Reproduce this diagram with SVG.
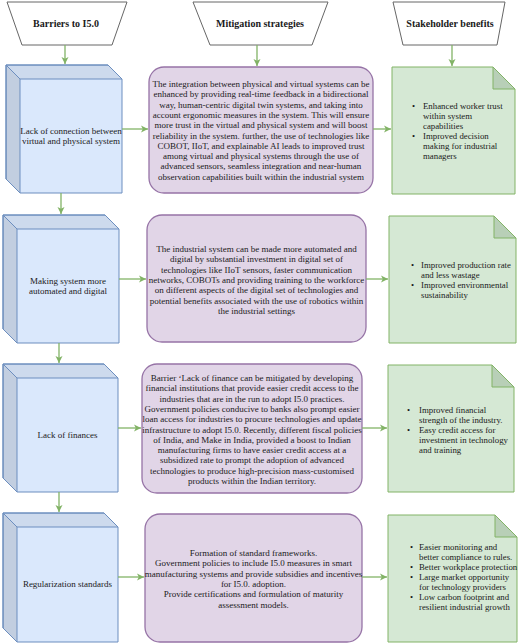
<svg xmlns="http://www.w3.org/2000/svg" width="520" height="644" viewBox="0 0 520 644">
<defs>
<marker id="ah" markerWidth="8" markerHeight="8" refX="7" refY="4" orient="auto" markerUnits="userSpaceOnUse">
<path d="M0,0.5 L7,4 L0,7.5 L1.8,4 Z" fill="#82B366"/>
</marker>
<style>
.hdr{fill:#fff;stroke:#666;stroke-width:1}
.ht{font-family:"Liberation Serif",serif;font-weight:bold;font-size:10px;fill:#1a1a1a;text-anchor:middle}
.cube{fill:#DAE8FC;stroke:#6C8EBF;stroke-width:1}
.top{fill:#000;fill-opacity:0.06;stroke:#6C8EBF;stroke-width:1}
.side{fill:#000;fill-opacity:0.11;stroke:#6C8EBF;stroke-width:1}
.mit{fill:#E1D5E7;stroke:#9673A6;stroke-width:1.3}
.note{fill:#D5E8D4;stroke:#82B366;stroke-width:1}
.fold{fill:#B8CFB7;stroke:#82B366;stroke-width:1}
.t{font-family:"Liberation Serif",serif;font-size:9px;fill:#1a1a1a;text-anchor:middle}
.b{font-family:"Liberation Serif",serif;font-size:8.8px;fill:#1a1a1a}
.c line{stroke:#82B366;stroke-width:1.3;marker-end:url(#ah)}
</style>
</defs>

<g id="h1"><path class="hdr" d="M7,2 L127,2 L112,45 L22,45 Z"/><text class="ht" x="66" y="27">Barriers to I5.0</text></g>
<g id="h2"><path class="hdr" d="M193,2 L328,2 L312,45 L210,45 Z"/><text class="ht" x="260" y="27">Mitigation strategies</text></g>
<g id="h3"><path class="hdr" d="M393,2 L505,2 L497,45 L403,45 Z"/><text class="ht" x="450" y="27">Stakeholder benefits</text></g>

<g id="b1">
<path class="cube" d="M6,65 L108,65 L122,79 L122,193 L20,193 L6,179 Z"/>
<path class="top" d="M6,65 L108,65 L122,79 L20,79 Z"/>
<path class="side" d="M6,65 L20,79 L20,193 L6,179 Z"/>
<text class="t" x="71" y="134">Lack of connection between</text>
<text class="t" x="71" y="144.3">virtual and physical system</text>
</g>
<g id="b2">
<path class="cube" d="M3,215 L105,215 L119,229 L119,343 L17,343 L3,329 Z"/>
<path class="top" d="M3,215 L105,215 L119,229 L17,229 Z"/>
<path class="side" d="M3,215 L17,229 L17,343 L3,329 Z"/>
<text class="t" x="68" y="284">Making system more</text>
<text class="t" x="68" y="294.3">automated and digital</text>
</g>
<g id="b3">
<path class="cube" d="M3,364 L104,364 L118,378 L118,492 L17,492 L3,478 Z"/>
<path class="top" d="M3,364 L104,364 L118,378 L17,378 Z"/>
<path class="side" d="M3,364 L17,378 L17,492 L3,478 Z"/>
<text class="t" x="67.5" y="438">Lack of finances</text>
</g>
<g id="b4">
<path class="cube" d="M3,513 L104,513 L118,527 L118,642 L17,642 L3,628 Z"/>
<path class="top" d="M3,513 L104,513 L118,527 L17,527 Z"/>
<path class="side" d="M3,513 L17,527 L17,642 L3,628 Z"/>
<text class="t" x="67.5" y="587">Regularization standards</text>
</g>

<g id="m1">
<rect class="mit" x="149" y="67" width="224" height="126" rx="15"/>
<text class="t" x="261" y="87">The integration between physical and virtual systems can be</text>
<text class="t" x="261" y="97.3">enhanced by providing real-time feedback in a bidirectional</text>
<text class="t" x="261" y="107.6">way, human-centric digital twin systems, and taking into</text>
<text class="t" x="261" y="117.9">account ergonomic measures in the system. This will ensure</text>
<text class="t" x="261" y="128.2">more trust in the virtual and physical system and will boost</text>
<text class="t" x="261" y="138.5">reliability in the system. further, the use of technologies like</text>
<text class="t" x="261" y="148.8">COBOT, IIoT, and explainable AI leads to improved trust</text>
<text class="t" x="261" y="159.1">among virtual and physical systems through the use of</text>
<text class="t" x="261" y="169.4">advanced sensors, seamless integration and near-human</text>
<text class="t" x="261" y="179.7">observation capabilities built within the industrial system</text>
</g>
<g id="m2">
<rect class="mit" x="147" y="215" width="219" height="127" rx="15"/>
<text class="t" x="256.5" y="252">The industrial system can be made more automated and</text>
<text class="t" x="256.5" y="262.3">digital by substantial investment in digital set of</text>
<text class="t" x="256.5" y="272.6">technologies like IIoT sensors, faster communication</text>
<text class="t" x="256.5" y="282.9">networks, COBOTs and providing training to the workforce</text>
<text class="t" x="256.5" y="293.2">on different aspects of the digital set of technologies and</text>
<text class="t" x="256.5" y="303.5">potential benefits associated with the use of robotics within</text>
<text class="t" x="256.5" y="313.8">the industrial settings</text>
</g>
<g id="m3">
<rect class="mit" x="142" y="364" width="220" height="129" rx="15"/>
<text class="t" x="252" y="381">Barrier ‘Lack of finance can be mitigated by developing</text>
<text class="t" x="252" y="391.3">financial institutions that provide easier credit access to the</text>
<text class="t" x="252" y="401.6">industries that are in the run to adopt I5.0 practices.</text>
<text class="t" x="252" y="411.9">Government policies conducive to banks also prompt easier</text>
<text class="t" x="252" y="422.2">loan access for industries to procure technologies and update</text>
<text class="t" x="252" y="432.5">infrastructure to adopt I5.0. Recently, different fiscal policies</text>
<text class="t" x="252" y="442.8">of India, and Make in India, provided a boost to Indian</text>
<text class="t" x="252" y="453.1">manufacturing firms to have easier credit access at a</text>
<text class="t" x="252" y="463.4">subsidized rate to prompt the adoption of advanced</text>
<text class="t" x="252" y="473.7">technologies to produce high-precision mass-customised</text>
<text class="t" x="252" y="484">products within the Indian territory.</text>
</g>
<g id="m4">
<rect class="mit" x="145" y="514" width="217" height="128" rx="15"/>
<text class="t" x="253.5" y="556">Formation of standard frameworks.</text>
<text class="t" x="253.5" y="566.3">Government policies to include I5.0 measures in smart</text>
<text class="t" x="253.5" y="576.6">manufacturing systems and provide subsidies and incentives</text>
<text class="t" x="253.5" y="586.9">for I5.0. adoption.</text>
<text class="t" x="253.5" y="597.2">Provide certifications and formulation of maturity</text>
<text class="t" x="253.5" y="607.5">assessment models.</text>
</g>

<g id="s1">
<path class="note" d="M392,67 L493,67 L515,89 L515,194 L392,194 Z"/>
<path class="fold" d="M493,67 L493,89 L515,89 Z"/>
<text class="b" x="412" y="109">•</text>
<text class="b" x="423" y="109">Enhanced worker trust</text>
<text class="b" x="423" y="119">within system</text>
<text class="b" x="423" y="129">capabilities</text>
<text class="b" x="412" y="139">•</text>
<text class="b" x="423" y="139">Improved decision</text>
<text class="b" x="423" y="149">making for industrial</text>
<text class="b" x="423" y="159">managers</text>
</g>
<g id="s2">
<path class="note" d="M389,216 L494,216 L516,238 L516,343 L389,343 Z"/>
<path class="fold" d="M494,216 L494,238 L516,238 Z"/>
<text class="b" x="411" y="268">•</text>
<text class="b" x="421" y="268">Improved production rate</text>
<text class="b" x="421" y="278">and less wastage</text>
<text class="b" x="411" y="288">•</text>
<text class="b" x="421" y="288">Improved environmental</text>
<text class="b" x="421" y="298">sustainability</text>
</g>
<g id="s3">
<path class="note" d="M388,365 L492,365 L514,387 L514,492 L388,492 Z"/>
<path class="fold" d="M492,365 L492,387 L514,387 Z"/>
<text class="b" x="407" y="413">•</text>
<text class="b" x="419" y="413">Improved financial</text>
<text class="b" x="419" y="423">strength of the industry.</text>
<text class="b" x="407" y="433">•</text>
<text class="b" x="419" y="433">Easy credit access for</text>
<text class="b" x="419" y="443">investment in technology</text>
<text class="b" x="419" y="453">and training</text>
</g>
<g id="s4">
<path class="note" d="M388,515 L495,515 L517,537 L517,642 L388,642 Z"/>
<path class="fold" d="M495,515 L495,537 L517,537 Z"/>
<text class="b" x="410" y="550">•</text>
<text class="b" x="419" y="550">Easier monitoring and</text>
<text class="b" x="419" y="560">better compliance to rules.</text>
<text class="b" x="410" y="570">•</text>
<text class="b" x="419" y="570">Better workplace protection</text>
<text class="b" x="410" y="580">•</text>
<text class="b" x="419" y="580">Large market opportunity</text>
<text class="b" x="419" y="590">for technology providers</text>
<text class="b" x="410" y="600">•</text>
<text class="b" x="419" y="600">Low carbon footprint and</text>
<text class="b" x="419" y="610">resilient industrial growth</text>
</g>

<g id="connectors" class="c">
<line x1="65" y1="45" x2="65" y2="64"/>
<line x1="257" y1="45" x2="257" y2="66"/>
<line x1="452" y1="45" x2="452" y2="66"/>
<line x1="61" y1="193" x2="61" y2="214"/>
<line x1="59" y1="343" x2="59" y2="363"/>
<line x1="59" y1="492" x2="59" y2="512"/>
<line x1="122" y1="129" x2="148" y2="129"/>
<line x1="373" y1="129" x2="391" y2="129"/>
<line x1="119" y1="279" x2="146" y2="279"/>
<line x1="366" y1="279" x2="388" y2="279"/>
<line x1="118" y1="428" x2="141" y2="428"/>
<line x1="362" y1="428" x2="387" y2="428"/>
<line x1="118" y1="577" x2="144" y2="577"/>
<line x1="362" y1="577" x2="387" y2="577"/>
</g>
</svg>
